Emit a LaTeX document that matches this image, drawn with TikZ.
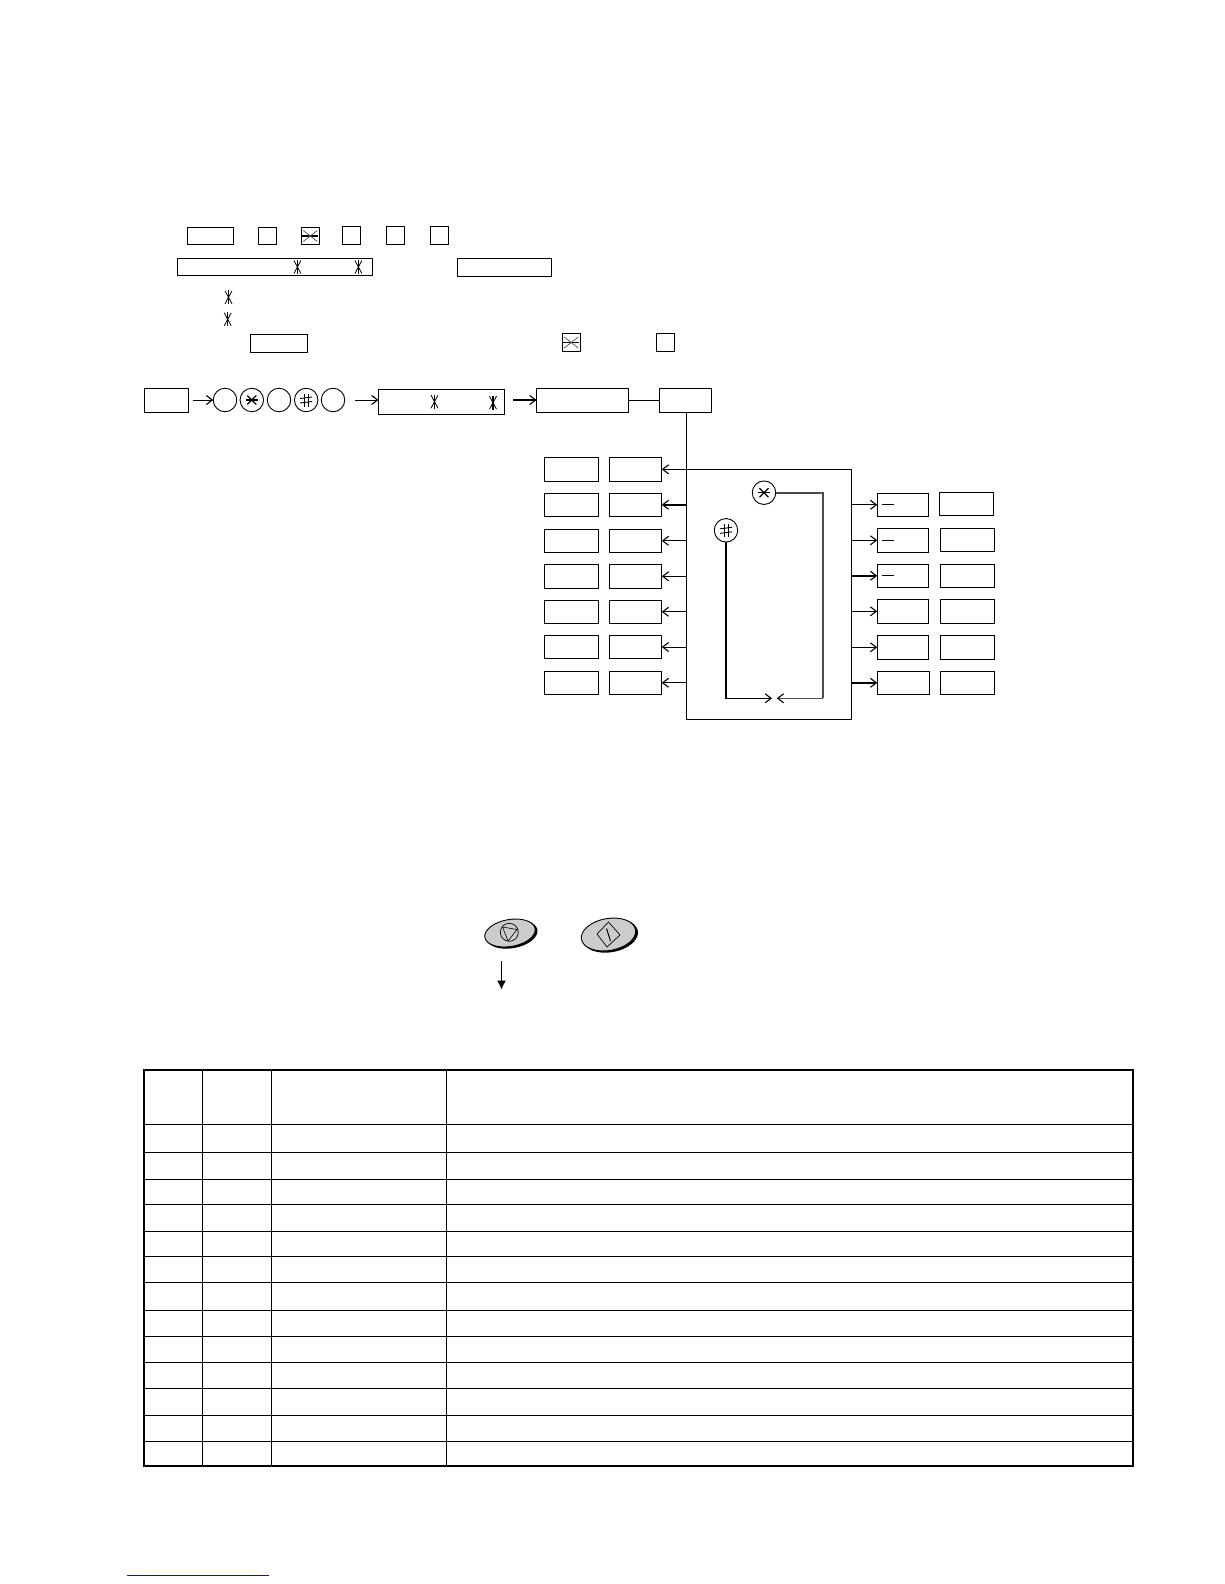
\documentclass[tikz,border=0pt]{standalone}
\usetikzlibrary{arrows.meta}
\newcommand{\rectnode}[6][]{%
  \pgfmathsetmacro{\rw}{#5-#3}\pgfmathsetmacro{\rh}{#6-#4}%
  \node[rbox,minimum width=\rw pt,minimum height=\rh pt,#1] (#2) at ({(#3+#5)/2},{(#4+#6)/2}) {};}
\tikzset{
  x=1pt,y=-1pt,
  rbox/.style={draw=black,line width=1pt,inner sep=0pt,outer sep=0pt,rectangle},
  ring/.style={draw=black,line width=0.9pt,circle,inner sep=0pt,outer sep=0pt,minimum size=23.5pt},
  flow/.style={line width=1pt,-{Straight Barb[length=6pt,width=9pt,line width=1.1pt]}},
  flowb/.style={line width=2pt,-{Straight Barb[length=6pt,width=9pt,line width=1.1pt]}},
  plain/.style={line width=1pt},
  grid/.style={line width=1pt},
  frameline/.style={line width=2pt},
  pics/vstar/.style={code={
    \draw[line width=1.1pt] (0,-7)--(0,7);
    \draw[line width=0.8pt] (-3.5,-6.5)--(3.5,6.5) (3.5,-6.5)--(-3.5,6.5);}},
  pics/hstar/.style={code={
    \draw[line width=1.1pt] (-8,0)--(8,0);
    \draw[line width=0.7pt,black!70] (-7,-5.5)--(7,5.5) (7,-5.5)--(-7,5.5);}},
  pics/cstar/.style={code={
    \draw[line width=1.3pt] (-6,0)--(6,0);
    \draw[line width=1.2pt] (-4.5,-4.5)--(4.5,4.5) (4.5,-4.5)--(-4.5,4.5);}},
  pics/chash/.style={code={
    \draw[line width=0.9pt] (-2,-6.5)--(-2,6.5) (2,-6.5)--(2,6.5);
    \draw[line width=0.9pt] (-6,-1.5)--(6,-3) (-6,3)--(6,1.5);}},
}
\begin{document}
\begin{tikzpicture}
\useasboundingbox (0,0) rectangle (1224,1584);
% top row
\rectnode{ta}{187.5}{227.3}{233.5}{244.7}
\rectnode{tb}{258}{227.3}{276}{244.7}
\rectnode{tc}{301}{227.3}{319.5}{244.7}
\rectnode{td}{342}{226}{360.5}{244.7}
\rectnode{te}{386}{226}{404.5}{244.7}
\rectnode{tf}{430}{226}{448.5}{244.7}
\pic at (tc.center) {hstar};
% second row
\rectnode{sa}{177.5}{258.3}{372.5}{275.3}
\rectnode{sb}{457.5}{258.3}{551.5}{276.7}
\pic at (297.4,267) {vstar};
\pic at (358.4,267) {vstar};
% third block
\pic at (228.5,297.3) {vstar};
\pic at (227.7,319.3) {vstar};
\rectnode{na}{250.7}{334.3}{307.8}{352.7}
\rectnode{nb}{562}{333.3}{580.5}{351.7}
\rectnode{nc}{656.5}{333.3}{674.5}{351.7}
\pic at (nb.center) {hstar};
% flow row
\rectnode{fa}{144.6}{388.3}{188.6}{412.3}
\node[ring] (c1) at (225,400) {};
\node[ring] (c2) at (251.8,400) {};
\node[ring] (c3) at (279,400) {};
\node[ring] (c4) at (306.2,400) {};
\node[ring] (c5) at (333,400) {};
\pic at (c2.center) {cstar};
\pic at (c4.center) {chash};
\rectnode{fb}{378.5}{389.3}{504.5}{414.3}
\pic at (434.5,401.7) {vstar};
\pic at (493,402.7) {vstar};
\rectnode{fc}{536.5}{388.3}{628.5}{412.3}
\rectnode{fd}{659.5}{388.3}{711.5}{412.3}
\draw[line width=1.8pt] (fd.north east)--(fd.south east);
\coordinate (fa0) at (192.5,400);
\coordinate (fb0) at (355.3,400);
\coordinate (fc0) at (513,400);
\draw[flow] (fa0) -- (c1.west);
\draw[flow] (fb0) -- (fb.west |- fb0);
\draw[flowb] (fc0) -- (fc.west |- fc0);
\draw[plain] (fc.east) -- (fd.west);
% centre
\rectnode{ctr}{686.7}{469.3}{851.7}{719.3}
\draw[plain] (fd.south -| ctr.north west) -- (ctr.north west);
% left columns
\rectnode{la1}{544.3}{457.3}{598.7}{481.3}
\rectnode{la2}{544.3}{493.3}{598.7}{516.3}
\rectnode{la3}{544.3}{529.3}{598.7}{552.3}
\rectnode{la4}{544.3}{564.3}{598.7}{588.3}
\rectnode{la5}{544.3}{600.3}{598.7}{623.3}
\rectnode{la6}{544.3}{635.3}{598.7}{658.7}
\rectnode{la7}{544.3}{671.3}{598.7}{694.3}
\rectnode{lb1}{609.3}{457.3}{661.7}{481.3}
\rectnode{lb2}{609.3}{493.3}{661.7}{516.3}
\rectnode{lb3}{609.3}{529.3}{661.7}{552.3}
\rectnode{lb4}{609.3}{564.3}{661.7}{588.3}
\rectnode{lb5}{609.3}{600.3}{661.7}{623.3}
\rectnode{lb6}{609.3}{635.3}{661.7}{658.7}
\rectnode{lb7}{609.3}{671.3}{661.7}{694.3}
\draw[flow] (ctr.west |- lb1.east) -- (lb1.east);
\draw[flowb] (ctr.west |- lb2.east) -- (lb2.east);
\draw[flow] (ctr.west |- lb3.east) -- (lb3.east);
\draw[flow] (ctr.west |- lb4.east) -- (lb4.east);
\draw[flow] (ctr.west |- lb5.east) -- (lb5.east);
\draw[flow] (ctr.west |- lb6.east) -- (lb6.east);
\draw[flow] (ctr.west |- lb7.east) -- (lb7.east);
% right columns
\rectnode{ra1}{877.3}{493.3}{928.3}{516.3}
\rectnode{ra2}{877.3}{528.3}{928.3}{552.3}
\rectnode{ra3}{877.3}{564.3}{928.3}{587.3}
\rectnode{ra4}{877.3}{599.3}{928.3}{623.3}
\rectnode{ra5}{877.3}{635.3}{928.3}{659.3}
\rectnode{ra6}{877.3}{671.3}{929.3}{694.3}
\rectnode{rb1}{939.3}{492.3}{993.3}{515.3}
\rectnode{rb2}{940.3}{528.3}{994.7}{551.3}
\rectnode{rb3}{940.3}{564.3}{994.7}{587.3}
\rectnode{rb4}{940.3}{599.3}{994.7}{623.3}
\rectnode{rb5}{940.3}{635.3}{994.7}{659.3}
\rectnode{rb6}{940.3}{671.3}{994.7}{694.3}
\draw[flow] (ctr.east |- ra1.west) -- (ra1.west);
\draw[flow] (ctr.east |- ra2.west) -- (ra2.west);
\draw[flowb] (ctr.east |- ra3.west) -- (ra3.west);
\draw[flow] (ctr.east |- ra4.west) -- (ra4.west);
\draw[flow] (ctr.east |- ra5.west) -- (ra5.west);
\draw[flowb] (ctr.east |- ra6.west) -- (ra6.west);
\draw[plain] (882,504.3)--(894,504.3) (882,540.3)--(894,540.3) (882,575.3)--(894,575.3);
% inner loop
\node[ring] (cs) at (764,492.7) {};
\node[ring] (ch) at (726,530.3) {};
\pic at (cs.center) {cstar};
\pic at (ch.center) {chash};
\coordinate (ms) at (776.7,698.3);
\coordinate (mh) at (772,698.3);
\draw[line width=1.6pt,black!70,line join=miter] (cs.east) -- (823,492.7) -- (823,698.3);
\draw[line width=1.4pt,black!70,-{Straight Barb[length=6pt,width=9pt,line width=1.1pt,black]}] (823,698.3) -- (ms);
\draw[line width=2pt] (ch.south) -- (726,698.3);
\draw[flow] (725,698.3) -- (mh);
% buttons
\begin{scope}[shift={(510,933)},rotate=10]
  \fill[black] (1.5,1.5) ellipse [x radius=26,y radius=14];
  \draw[line width=0.9pt,fill=black!20] (0,0) ellipse [x radius=25.5,y radius=13.5];
\end{scope}
\node[draw=black,line width=0.7pt,circle,inner sep=0pt,minimum size=18pt] (stopk) at (509.3,932.3) {};
\draw[line width=0.6pt] (502.5,927) -- (517,929.5) -- (508,941) -- cycle;
\begin{scope}[shift={(608.5,934.5)},rotate=10]
  \fill[black] (1.5,1.5) ellipse [x radius=28,y radius=16.5];
  \draw[line width=0.9pt,fill=black!20] (0,0) ellipse [x radius=27.5,y radius=16];
\end{scope}
\draw[line width=0.7pt] (608.5,922) -- (620,935) -- (607,947) -- (597,934) -- cycle;
\draw[line width=1pt] (606.5,928.5) -- (610.5,941);
\coordinate (da) at (501.5,961);
\coordinate (db) at (501.5,989.5);
\draw[line width=1pt,-{Latex[length=9pt,width=9pt]}] (da) -- (db);
% table
\draw[grid] (202.5,1070)--(202.5,1465.7) (271.5,1070)--(271.5,1465.7) (446.5,1070)--(446.5,1465.7);
\draw[grid] (144,1124.5)--(1133,1124.5) (144,1152.5)--(1133,1152.5) (144,1179.5)--(1133,1179.5)
 (144,1204.5)--(1133,1204.5) (144,1231.5)--(1133,1231.5) (144,1256.5)--(1133,1256.5)
 (144,1282.5)--(1133,1282.5) (144,1310.5)--(1133,1310.5) (144,1336.5)--(1133,1336.5)
 (144,1362.5)--(1133,1362.5) (144,1388.5)--(1133,1388.5) (144,1415.5)--(1133,1415.5) (144,1441.5)--(1133,1441.5);
\draw[frameline] (144,1070) rectangle (1133,1465.7);
% rule
\draw[line width=1pt,color={rgb,255:red,20;green,20;blue,160}] (127,1575)--(269,1575);
\end{tikzpicture}
\end{document}
